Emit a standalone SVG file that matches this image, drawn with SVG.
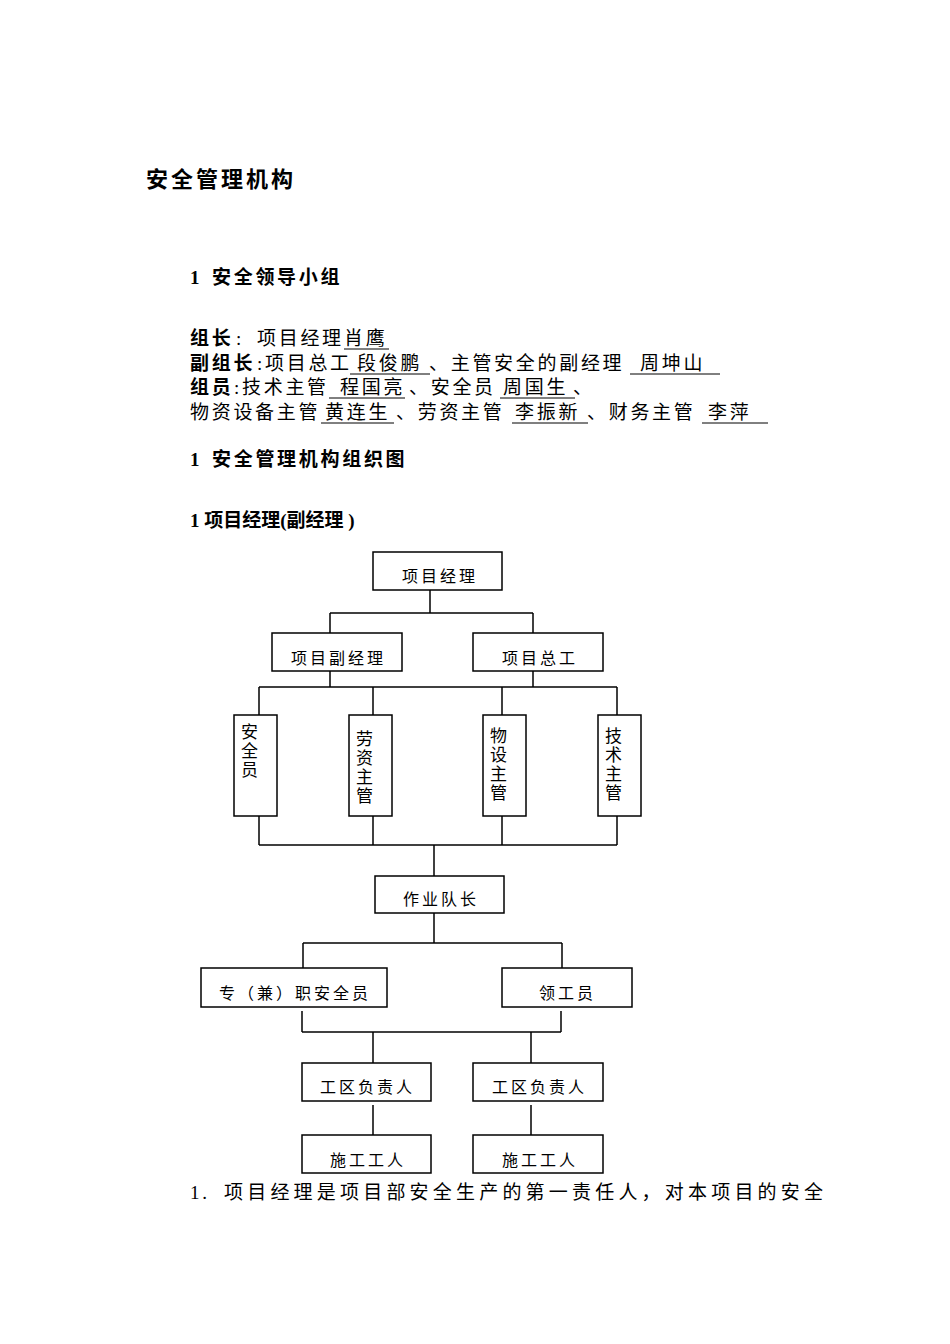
<svg xmlns="http://www.w3.org/2000/svg" width="950" height="1344" viewBox="0 0 950 1344">
<style>
text{font-family:"Liberation Serif","Noto Sans CJK SC",serif;fill:#000}
.t{font-size:19px;letter-spacing:2.7px}
.b{font-weight:bold}
.n{font-size:16px;letter-spacing:3px}
.v{font-size:17px}
rect{fill:#fff;stroke:#000;stroke-width:1.5}
.c line{stroke:#000;stroke-width:1.5}
.u line{stroke:#000;stroke-width:1}
</style>
<rect x="0" y="0" width="950" height="1344" style="stroke:none"/>
<text x="146" y="187" class="b" font-size="22" letter-spacing="3">安全管理机构</text>
<text x="190" y="284" class="t b">1 <tspan x="212">安全领导小组</tspan></text>
<text y="345" class="t"><tspan x="190" class="b">组长</tspan><tspan x="236">:</tspan><tspan x="257">项目经理</tspan><tspan x="344">肖鹰</tspan></text>
<text y="370" class="t"><tspan x="190" class="b">副组长</tspan><tspan x="257">:项目总工</tspan><tspan x="357">段俊鹏</tspan><tspan x="429">、主管安全的副经理</tspan><tspan x="640">周坤山</tspan></text>
<text y="394" class="t"><tspan x="190" class="b">组员</tspan><tspan x="234">:技术主管</tspan><tspan x="340">程国亮</tspan><tspan x="409">、安全员</tspan><tspan x="503">周国生</tspan><tspan x="573">、</tspan></text>
<text y="419" class="t"><tspan x="190">物资设备主管</tspan><tspan x="325">黄连生</tspan><tspan x="396">、劳资主管</tspan><tspan x="515">李振新</tspan><tspan x="587">、财务主管</tspan><tspan x="708">李萍</tspan></text>
<g class="u">
<line x1="344" y1="349" x2="389" y2="349"/>
<line x1="350" y1="374" x2="430" y2="374"/>
<line x1="630" y1="374" x2="720" y2="374"/>
<line x1="329" y1="398" x2="405" y2="398"/>
<line x1="500" y1="398" x2="575" y2="398"/>
<line x1="321" y1="423" x2="394" y2="423"/>
<line x1="512" y1="423" x2="588" y2="423"/>
<line x1="702" y1="423" x2="768" y2="423"/>
</g>
<text x="190" y="466" class="t b">1 <tspan x="212">安全管理机构组织图</tspan></text>
<text x="190" y="527" class="b" font-size="19">1 项目经理(副经理 )</text>
<g class="c">
<line x1="430" y1="590" x2="430" y2="613"/><line x1="330" y1="613" x2="533" y2="613"/>
<line x1="330" y1="613" x2="330" y2="633"/><line x1="533" y1="613" x2="533" y2="633"/>
<line x1="330" y1="671" x2="330" y2="687"/><line x1="533" y1="671" x2="533" y2="687"/>
<line x1="259" y1="687" x2="617" y2="687"/>
<line x1="259" y1="687" x2="259" y2="715"/><line x1="373" y1="687" x2="373" y2="715"/>
<line x1="502" y1="687" x2="502" y2="715"/><line x1="617" y1="687" x2="617" y2="715"/>
<line x1="259" y1="816" x2="259" y2="845"/><line x1="373" y1="816" x2="373" y2="845"/>
<line x1="502" y1="816" x2="502" y2="845"/><line x1="617" y1="816" x2="617" y2="845"/>
<line x1="259" y1="845" x2="617" y2="845"/><line x1="434" y1="845" x2="434" y2="876"/>
<line x1="434" y1="913" x2="434" y2="943"/><line x1="303" y1="943" x2="562" y2="943"/>
<line x1="303" y1="943" x2="303" y2="968"/><line x1="562" y1="943" x2="562" y2="968"/>
<line x1="302" y1="1011" x2="302" y2="1032"/><line x1="561" y1="1011" x2="561" y2="1032"/>
<line x1="302" y1="1032" x2="561" y2="1032"/>
<line x1="373" y1="1032" x2="373" y2="1063"/><line x1="531" y1="1032" x2="531" y2="1063"/>
<line x1="373" y1="1105" x2="373" y2="1135"/><line x1="531" y1="1105" x2="531" y2="1135"/>
</g>
<g id="pm"><rect x="373" y="552" width="129" height="38"/><text x="402" y="582" class="n">项目经理</text></g>
<g id="dpm"><rect x="272" y="633" width="130" height="38"/><text x="291" y="664" class="n">项目副经理</text></g>
<g id="ce"><rect x="473" y="633" width="130" height="38"/><text x="502" y="664" class="n">项目总工</text></g>
<g id="aqy"><rect x="234" y="715" width="43" height="101"/><text class="v"><tspan x="241" y="738">安</tspan><tspan x="241" y="757">全</tspan><tspan x="241" y="776">员</tspan></text></g>
<g id="lz"><rect x="349" y="715" width="43" height="101"/><text class="v"><tspan x="356" y="745">劳</tspan><tspan x="356" y="764">资</tspan><tspan x="356" y="783">主</tspan><tspan x="356" y="802">管</tspan></text></g>
<g id="ws"><rect x="483" y="715" width="43" height="101"/><text class="v"><tspan x="490" y="742">物</tspan><tspan x="490" y="761">设</tspan><tspan x="490" y="780">主</tspan><tspan x="490" y="799">管</tspan></text></g>
<g id="js"><rect x="598" y="715" width="43" height="101"/><text class="v"><tspan x="605" y="742">技</tspan><tspan x="605" y="761">术</tspan><tspan x="605" y="780">主</tspan><tspan x="605" y="799">管</tspan></text></g>
<g id="dz"><rect x="375" y="876" width="129" height="37"/><text x="403" y="905" class="n">作业队长</text></g>
<g id="zz"><rect x="201" y="968" width="186" height="39"/><text x="219" y="999" class="n" letter-spacing="2.5">专（兼）职安全员</text></g>
<g id="lg"><rect x="502" y="968" width="130" height="39"/><text x="539" y="999" class="n">领工员</text></g>
<g id="gq1"><rect x="302" y="1063" width="129" height="38"/><text x="320" y="1093" class="n">工区负责人</text></g>
<g id="gq2"><rect x="473" y="1063" width="130" height="38"/><text x="492" y="1093" class="n">工区负责人</text></g>
<g id="sg1"><rect x="302" y="1135" width="129" height="38"/><text x="330" y="1166" class="n">施工工人</text></g>
<g id="sg2"><rect x="473" y="1135" width="130" height="38"/><text x="502" y="1166" class="n">施工工人</text></g>
<text y="1199" class="t"><tspan x="190">1.</tspan><tspan x="224" letter-spacing="4.2">项目经理是项目部安全生产的第一责任人，对本项目的安全</tspan></text>
</svg>
